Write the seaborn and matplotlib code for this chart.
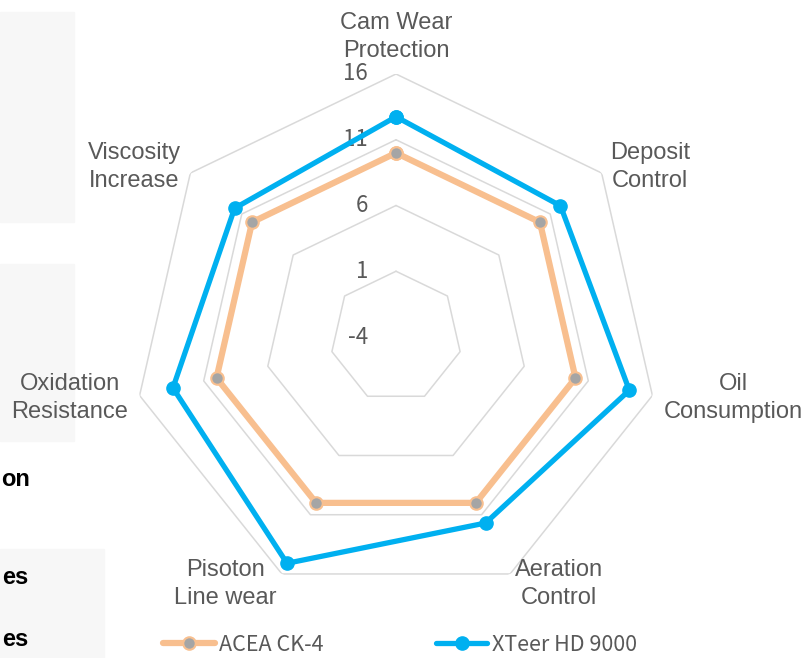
import numpy as np
import pandas as pd
import matplotlib
matplotlib.use('Agg')
import matplotlib.pyplot as plt
import seaborn as sns
from matplotlib.patches import Rectangle
from matplotlib.lines import Line2D

categories = ['Cam Wear\nProtection', 'Deposit\nControl', 'Oil\nConsumption', 'Aeration\nControl',
              'Pisoton\nLine wear', 'Oxidation\nResistance', 'Viscosity\nIncrease']
acea = [10, 10, 10, 10, 10, 10, 10]
xteer = [12.75, 12, 14.2, 11.7, 15.1, 13.4, 11.7]
series_names = ['ACEA CK-4', 'XTeer HD 9000']
ticks = [-4, 1, 6, 11, 16]

# label centres in pixels (x, y from top)
label_pos = [(396, 37), (650, 167), (733, 398), (559, 584), (225, 584), (70, 398), (134, 167)]

sns.set_theme(style='white')
plt.rcParams['font.family'] = ['Liberation Sans', 'DejaVu Sans']

W, H = 806, 658
fig = plt.figure(figsize=(W / 100, H / 100), dpi=100)

# left side page bits (cut off)
for (x0, y0, x1, y1) in [(0, 12, 74, 222), (0, 264, 74, 441), (0, 549, 104, 658)]:
    fig.patches.append(Rectangle((x0 / W, 1 - y1 / H), (x1 - x0) / W, (y1 - y0) / H,
                                 transform=fig.transFigure, color='#F7F7F7', zorder=0))
for txt, x, y in [('on', 30, 479), ('es', 28, 577), ('es', 28, 640)]:
    fig.text(x / W, 1 - y / H, txt, ha='right', va='center', fontsize=17,
             fontweight='bold', color='black')

cx, cy, R = 396, 337, 263
ax = fig.add_axes([(cx - R) / W, (H - cy - R) / H, 2 * R / W, 2 * R / H], polar=True)
ax.set_facecolor('none')
ax.set_theta_offset(np.pi / 2)
ax.set_theta_direction(-1)
ax.set_ylim(ticks[0], ticks[-1])
ax.grid(False)
ax.spines['polar'].set_visible(False)
ax.set_xticks([])
ax.set_yticks([])

n = len(categories)
theta = np.linspace(0, 2 * np.pi, n, endpoint=False)
theta_c = np.append(theta, theta[0])

for t in ticks[1:]:
    ax.plot(theta_c, [t] * (n + 1), color='#D9D9D9', lw=1.1, zorder=1)
for t in ticks:
    ax.annotate(str(t), xy=(0, t), xytext=(-28, 0), textcoords='offset pixels',
                ha='right', va='center', fontsize=16, color='#595959',
                family=['Noto Sans CJK KR', 'DejaVu Sans'])

df = pd.DataFrame({
    'theta': np.concatenate([theta_c, theta_c]),
    'value': acea + acea[:1] + xteer + xteer[:1],
    'series': [series_names[0]] * (n + 1) + [series_names[1]] * (n + 1),
})

styles = {
    series_names[0]: dict(color='#F8BF8F', lw=4.5, mfc='#A5A5A5', mec='#F8BF8F', ms=9, mew=1.5),
    series_names[1]: dict(color='#00B0F0', lw=3.8, mfc='#00B0F0', mec='#00B0F0', ms=9.5, mew=1),
}
handles = []
for i, name in enumerate(series_names):
    s = styles[name]
    sub = df[df['series'] == name]
    sns.lineplot(data=sub, x='theta', y='value', sort=False, estimator=None, ax=ax,
                 color=s['color'], lw=s['lw'], marker='o', markersize=s['ms'],
                 markerfacecolor=s['mfc'], markeredgecolor=s['mec'], markeredgewidth=s['mew'],
                 zorder=3 + i, legend=False)
    handles.append(Line2D([], [], color=s['color'], lw=s['lw'], marker='o', markersize=s['ms'],
                          markerfacecolor=s['mfc'], markeredgecolor=s['mec'],
                          markeredgewidth=s['mew'], label=name))
ax.set_xlabel('')
ax.set_ylabel('')
ax.set_ylim(ticks[0], ticks[-1])

for lab, (x, y) in zip(categories, label_pos):
    fig.text(x / W, 1 - y / H, lab, ha='center', va='center', fontsize=17,
             color='#595959', multialignment='center', linespacing=1.35)

leg = fig.legend(handles=handles, loc='center', bbox_to_anchor=(400 / W, 1 - 645 / H), ncol=2,
                 frameon=False, handlelength=2.4, handletextpad=0.2, columnspacing=5.2,
                 prop={'family': ['Noto Sans CJK KR', 'DejaVu Sans'], 'size': 15.5})
for t in leg.get_texts():
    t.set_color('#595959')

fig.savefig('out.png', dpi=100)
